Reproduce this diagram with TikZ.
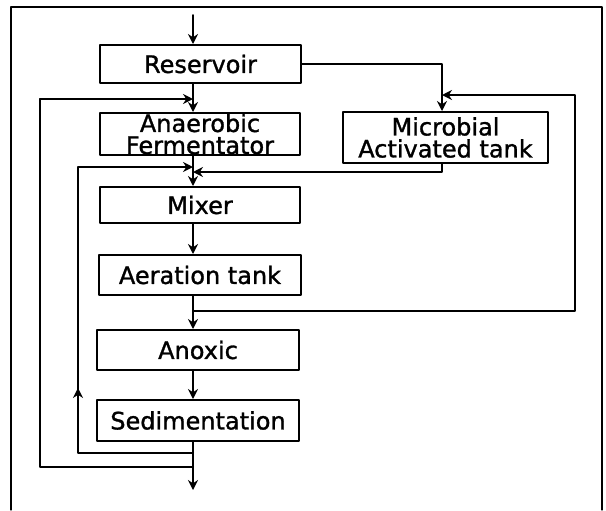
\documentclass[tikz,border=0pt]{standalone}
\usepackage{fontspec}
\setmainfont{DejaVu Sans}[AutoFakeBold=1.2]
\usetikzlibrary{arrows.meta}
\tikzset{
  unit/.style={draw, line width=1pt, minimum width=100pt, minimum height=20pt, inner sep=0pt, align=center},
  flow/.style={line width=1pt, -{Stealth[length=5pt,width=5pt]}},
  pipe/.style={line width=1pt}
}
\begin{document}
\begin{tikzpicture}[x=0.5pt, y=-0.5pt, font=\fontsize{12}{13}\selectfont\bfseries, line join=round, line cap=round]
	\useasboundingbox (0,0) rectangle (606,510);
	% frame
	\draw[line width=0.6pt] (11,510) -- (11,7) -- (602,7) -- (602,510);
	% main line
	\coordinate (spine) at (193,0);
	\node[unit, minimum width=100.5pt, minimum height=19pt] (res) at (200.5,64) {Reservoir};
	\node[unit, minimum height=21pt, font=\fontsize{12}{11}\selectfont\bfseries] (ana) at (200,134) {Anaerobic\\ Fermentator};
	\node[unit, minimum height=18pt] (mix) at (200,205) {Mixer};
	\node[unit, minimum width=101pt] (aer) at (200,275) {Aeration tank};
	\node[unit, minimum width=101pt] (anx) at (198,350) {Anoxic};
	\node[unit, minimum width=101pt, minimum height=20.5pt] (sed) at (198,420.5) {Sedimentation};
	\node[unit, minimum width=102.5pt, minimum height=25.5pt, font=\fontsize{12}{11}\selectfont\bfseries] (mic) at (445.5,137.5) {Microbial\\ Activated tank};
	\coordinate (in) at (193,15);
	\coordinate (out) at (193,490);
	\coordinate (tap) at (442,0);
	% forward flow
	\draw[flow] (in) -- (res.north -| spine);
	\draw[flow] (res.south -| spine) -- (ana.north -| spine);
	\draw[flow] (ana.south -| spine) -- (mix.north -| spine);
	\draw[flow] (mix.south -| spine) -- (aer.north -| spine);
	\draw[flow] (aer.south -| spine) -- (anx.north -| spine);
	\draw[flow] (anx.south -| spine) -- (sed.north -| spine);
	\draw[flow] (sed.south -| spine) -- (out);
	% branch to microbial tank
	\draw[flow] (res.east) -- (res.east -| tap) -- (mic.north -| tap);
	\draw[flow] (mic.south -| tap) -- (442,172) -- (193,172);
	% recycle from aeration
	\draw[flow] (193,311) -- (575,311) -- (575,95) -- (442,95);
	% returns from sedimentation
	\draw[pipe] (193,467) -- (40,467) -- (40,99);
	\draw[flow] (40,99) -- (193,99);
	\draw[flow] (193,453) -- (78,453) -- (78,388);
	\draw[flow] (78,392) -- (78,167) -- (193,167);
\end{tikzpicture}
\end{document}
